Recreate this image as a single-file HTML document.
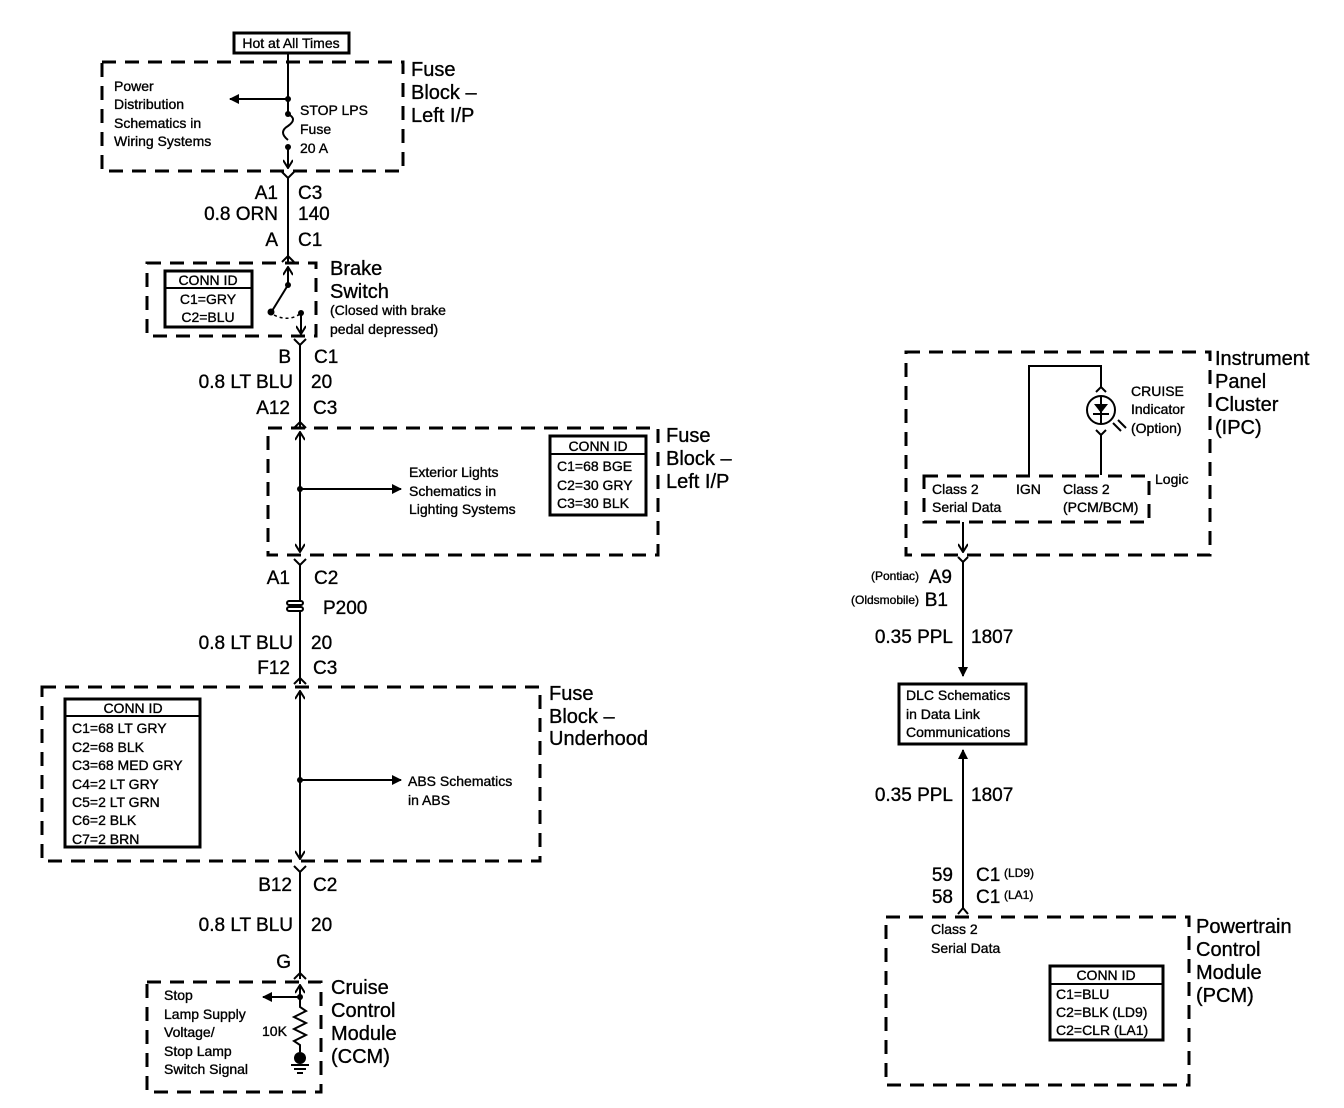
<!DOCTYPE html>
<html><head><meta charset="utf-8"><style>
html,body{margin:0;padding:0;background:#fff}
svg{display:block}
text{font-family:"Liberation Sans",sans-serif;fill:#000;stroke:#000;stroke-width:0.35}
.L{font-size:20px}
.M{font-size:19px}
.S{font-size:14px}
.X{font-size:12px}
.d{fill:none;stroke:#000;stroke-width:3;stroke-dasharray:14 9}
.w{fill:none;stroke:#000;stroke-width:2}
.b{fill:none;stroke:#000;stroke-width:3}
</style></head><body>
<svg width="1344" height="1108" viewBox="0 0 1344 1108" xmlns="http://www.w3.org/2000/svg">
<defs>
<marker id="ah" markerWidth="10" markerHeight="10" refX="9" refY="5" orient="auto" markerUnits="userSpaceOnUse"><path d="M0,0 L10,5 L0,10 Z"/></marker>
<marker id="av" markerWidth="10" markerHeight="10" refX="8" refY="5" orient="auto" markerUnits="userSpaceOnUse"><path d="M1,0 L9,5 L1,10" fill="none" stroke="#000" stroke-width="2"/></marker>
</defs>

<rect x="234" y="33" width="115" height="20" class="b"/>
<text x="291" y="48" class="S" text-anchor="middle">Hot at All Times</text>

<rect x="102" y="62" width="301" height="109" class="d"/>
<text x="411" y="76" class="L">Fuse</text><text x="411" y="99" class="L">Block –</text><text x="411" y="122" class="L">Left I/P</text>
<text x="114" y="91" class="S">Power</text><text x="114" y="109" class="S">Distribution</text><text x="114" y="128" class="S">Schematics in</text><text x="114" y="146" class="S">Wiring Systems</text>
<text x="300" y="115" class="S">STOP LPS</text><text x="300" y="134" class="S">Fuse</text><text x="300" y="153" class="S">20 A</text>
<path d="M288,53 V112" class="w"/>
<circle cx="288" cy="99" r="3"/>
<path d="M288,99 H230" class="w" marker-end="url(#ah)"/>
<circle cx="288" cy="114" r="3"/>
<path d="M288,114 q10,5 0,12 q-10,6 0,14" class="w"/>
<circle cx="288" cy="147" r="3"/>
<path d="M288,147 V167" class="w" marker-end="url(#av)"/>
<path d="M282,172 L288,178 L294,172 M288,178 V262" class="w"/>
<path d="M282,262 L288,256 L294,262" class="w"/>
<text x="278" y="199" class="M" text-anchor="end">A1</text><text x="298" y="199" class="M">C3</text>
<text x="278" y="220" class="M" text-anchor="end">0.8 ORN</text><text x="298" y="220" class="M">140</text>
<text x="278" y="246" class="M" text-anchor="end">A</text><text x="298" y="246" class="M">C1</text>

<rect x="147" y="263" width="169" height="73" class="d"/>
<rect x="165" y="271" width="87" height="56" class="b"/>
<line x1="165" y1="288" x2="252" y2="288" stroke="#000" stroke-width="2"/>
<text x="208" y="285" class="S" text-anchor="middle">CONN ID</text>
<text x="208" y="304" class="S" text-anchor="middle">C1=GRY</text>
<text x="208" y="322" class="S" text-anchor="middle">C2=BLU</text>
<path d="M288,285 V268" class="w" marker-end="url(#av)"/>
<circle cx="288" cy="285" r="3"/>
<path d="M288,285 L272,311" class="w"/>
<circle cx="271" cy="312" r="3.5"/>
<path d="M274,315 Q288,322 300,314" fill="none" stroke="#000" stroke-width="1.5" stroke-dasharray="3 3"/>
<circle cx="301" cy="313" r="3"/>
<path d="M301,313 V333" class="w" marker-end="url(#av)"/>
<text x="330" y="275" class="L">Brake</text><text x="330" y="298" class="L">Switch</text>
<text x="330" y="315" class="S">(Closed with brake</text><text x="330" y="334" class="S">pedal depressed)</text>

<path d="M294,339 L300,345 L306,339 M300,345 V428" class="w"/>
<path d="M294,428 L300,422 L306,428" class="w"/>
<text x="291" y="363" class="M" text-anchor="end">B</text><text x="314" y="363" class="M">C1</text>
<text x="293" y="388" class="M" text-anchor="end">0.8 LT BLU</text><text x="311" y="388" class="M">20</text>
<text x="290" y="414" class="M" text-anchor="end">A12</text><text x="313" y="414" class="M">C3</text>

<rect x="268" y="428" width="390" height="127" class="d"/>
<text x="666" y="442" class="L">Fuse</text><text x="666" y="465" class="L">Block –</text><text x="666" y="488" class="L">Left I/P</text>
<path d="M300,489 V433" class="w" marker-end="url(#av)"/>
<path d="M300,489 V551" class="w" marker-end="url(#av)"/>
<circle cx="300" cy="489" r="3"/>
<path d="M300,489 H401" class="w" marker-end="url(#ah)"/>
<text x="409" y="477" class="S">Exterior Lights</text><text x="409" y="496" class="S">Schematics in</text><text x="409" y="514" class="S">Lighting Systems</text>
<rect x="550" y="436" width="96" height="79" class="b"/>
<line x1="550" y1="454" x2="646" y2="454" stroke="#000" stroke-width="2"/>
<text x="598" y="451" class="S" text-anchor="middle">CONN ID</text>
<text x="557" y="471" class="S">C1=68 BGE</text><text x="557" y="490" class="S">C2=30 GRY</text><text x="557" y="508" class="S">C3=30 BLK</text>

<path d="M294,559 L300,565 L306,559 M300,565 V684" class="w"/>
<path d="M294,684 L300,678 L306,684" class="w"/>
<text x="290" y="584" class="M" text-anchor="end">A1</text><text x="314" y="584" class="M">C2</text>
<rect x="287" y="601" width="16" height="4" fill="#fff" stroke="#000" stroke-width="2" rx="2"/>
<rect x="287" y="607" width="16" height="4" fill="#fff" stroke="#000" stroke-width="2" rx="2"/>
<text x="323" y="614" class="M">P200</text>
<text x="293" y="649" class="M" text-anchor="end">0.8 LT BLU</text><text x="311" y="649" class="M">20</text>
<text x="290" y="674" class="M" text-anchor="end">F12</text><text x="313" y="674" class="M">C3</text>

<rect x="42" y="687" width="498" height="174" class="d"/>
<text x="549" y="700" class="L">Fuse</text><text x="549" y="723" class="L">Block –</text><text x="549" y="745" class="L">Underhood</text>
<rect x="65" y="699" width="135" height="148" class="b"/>
<line x1="65" y1="716" x2="200" y2="716" stroke="#000" stroke-width="2"/>
<text x="133" y="713" class="S" text-anchor="middle">CONN ID</text>
<text x="72" y="733" class="S">C1=68 LT GRY</text><text x="72" y="752" class="S">C2=68 BLK</text><text x="72" y="770" class="S">C3=68 MED GRY</text>
<text x="72" y="789" class="S">C4=2 LT GRY</text><text x="72" y="807" class="S">C5=2 LT GRN</text><text x="72" y="825" class="S">C6=2 BLK</text><text x="72" y="844" class="S">C7=2 BRN</text>
<path d="M300,780 V692" class="w" marker-end="url(#av)"/>
<path d="M300,780 V858" class="w" marker-end="url(#av)"/>
<circle cx="300" cy="780" r="3"/>
<path d="M300,780 H401" class="w" marker-end="url(#ah)"/>
<text x="408" y="786" class="S">ABS Schematics</text><text x="408" y="805" class="S">in ABS</text>

<path d="M294,866 L300,872 L306,866 M300,872 V979" class="w"/>
<path d="M294,979 L300,973 L306,979" class="w"/>
<text x="292" y="891" class="M" text-anchor="end">B12</text><text x="313" y="891" class="M">C2</text>
<text x="293" y="931" class="M" text-anchor="end">0.8 LT BLU</text><text x="311" y="931" class="M">20</text>
<text x="291" y="968" class="M" text-anchor="end">G</text>

<rect x="147" y="982" width="174" height="110" class="d"/>
<text x="331" y="994" class="L">Cruise</text><text x="331" y="1017" class="L">Control</text><text x="331" y="1040" class="L">Module</text><text x="331" y="1063" class="L">(CCM)</text>
<text x="164" y="1000" class="S">Stop</text><text x="164" y="1019" class="S">Lamp Supply</text><text x="164" y="1037" class="S">Voltage/</text><text x="164" y="1056" class="S">Stop Lamp</text><text x="164" y="1074" class="S">Switch Signal</text>
<text x="262" y="1036" class="S">10K</text>
<path d="M300,1005 V986" class="w" marker-end="url(#av)"/>
<circle cx="300" cy="997" r="3"/>
<path d="M300,997 H263" class="w" marker-end="url(#ah)"/>
<path d="M300,997 V1007 l6,4 l-12,6 l12,6 l-12,6 l12,6 l-12,6 l6,4 V1052" class="w"/>
<circle cx="300" cy="1058" r="6"/>
<path d="M291,1065 H309 M294,1069 H306 M297,1073 H303" class="w" stroke-width="1.5"/>

<rect x="906" y="352" width="304" height="203" class="d"/>
<text x="1215" y="365" class="L">Instrument</text><text x="1215" y="388" class="L">Panel</text><text x="1215" y="411" class="L">Cluster</text><text x="1215" y="434" class="L">(IPC)</text>
<rect x="924" y="476" width="225" height="46" class="d"/>
<text x="1155" y="484" class="S">Logic</text>
<text x="932" y="494" class="S">Class 2</text><text x="932" y="512" class="S">Serial Data</text>
<text x="1016" y="494" class="S">IGN</text>
<text x="1063" y="494" class="S">Class 2</text><text x="1063" y="512" class="S">(PCM/BCM)</text>
<path d="M1029,475 V366 H1101 V387" class="w"/>
<path d="M1096,392 L1101,387 L1106,392" class="w"/>
<circle cx="1101" cy="410" r="14" class="w"/>
<path d="M1094,404 H1108 L1101,413 Z" />
<path d="M1093,414 H1109 M1101,396 V424" class="w" stroke-width="1.5"/>
<path d="M1096,430 L1101,435 L1106,430 M1101,435 V475" class="w"/>
<path d="M1113,423 l8,8 M1118,420 l8,8" class="w" stroke-width="1.5"/>
<text x="1131" y="396" class="S">CRUISE</text><text x="1131" y="414" class="S">Indicator</text><text x="1131" y="433" class="S">(Option)</text>
<path d="M963,522 V551" class="w" marker-end="url(#av)"/>
<path d="M958,557 L963,562 L968,557 M963,562 V676" class="w" marker-end="url(#ah)"/>
<text x="919" y="580" class="X" text-anchor="end">(Pontiac)</text><text x="952" y="583" class="M" text-anchor="end">A9</text>
<text x="919" y="604" class="X" text-anchor="end">(Oldsmobile)</text><text x="948" y="606" class="M" text-anchor="end">B1</text>
<text x="953" y="643" class="M" text-anchor="end">0.35 PPL</text><text x="971" y="643" class="M">1807</text>

<rect x="899" y="684" width="127" height="60" class="b"/>
<text x="906" y="700" class="S">DLC Schematics</text><text x="906" y="719" class="S">in Data Link</text><text x="906" y="737" class="S">Communications</text>
<path d="M963,908 V750" class="w" marker-end="url(#ah)"/>
<path d="M958,914 L963,908 L968,914" class="w"/>
<text x="953" y="801" class="M" text-anchor="end">0.35 PPL</text><text x="971" y="801" class="M">1807</text>
<text x="953" y="881" class="M" text-anchor="end">59</text><text x="976" y="881" class="M">C1</text><text x="1004" y="877" class="X">(LD9)</text>
<text x="953" y="903" class="M" text-anchor="end">58</text><text x="976" y="903" class="M">C1</text><text x="1004" y="899" class="X">(LA1)</text>

<rect x="886" y="917" width="303" height="168" class="d"/>
<text x="1196" y="933" class="L">Powertrain</text><text x="1196" y="956" class="L">Control</text><text x="1196" y="979" class="L">Module</text><text x="1196" y="1002" class="L">(PCM)</text>
<text x="931" y="934" class="S">Class 2</text><text x="931" y="953" class="S">Serial Data</text>
<rect x="1050" y="966" width="113" height="74" class="b"/>
<line x1="1050" y1="984" x2="1163" y2="984" stroke="#000" stroke-width="2"/>
<text x="1106" y="980" class="S" text-anchor="middle">CONN ID</text>
<text x="1056" y="999" class="S">C1=BLU</text><text x="1056" y="1017" class="S">C2=BLK (LD9)</text><text x="1056" y="1035" class="S">C2=CLR (LA1)</text>
</svg>
</body></html>
